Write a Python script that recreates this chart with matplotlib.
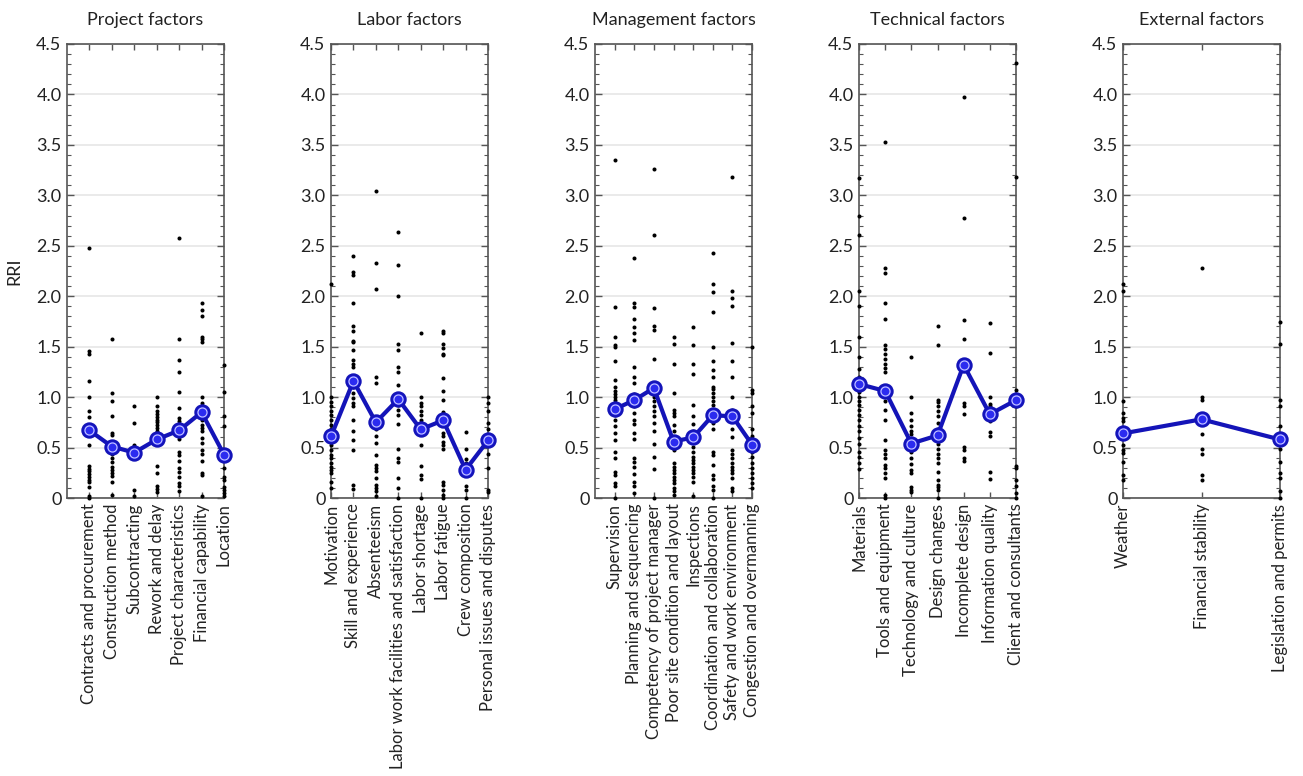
import matplotlib
matplotlib.use("Agg")
import matplotlib.pyplot as plt
from matplotlib.ticker import MultipleLocator, FixedLocator, FuncFormatter

plt.rcParams['font.family'] = ['Lato', 'DejaVu Sans']

# ---------------- data ----------------
titles = ["Project factors", "Labor factors", "Management factors",
          "Technical factors", "External factors"]

project_cats = ["Contracts and procurement", "Construction method", "Subcontracting",
                "Rework and delay", "Project characteristics", "Financial capability", "Location"]
labor_cats = ["Motivation", "Skill and experience", "Absenteeism",
              "Labor work facilities and satisfaction", "Labor shortage", "Labor fatigue",
              "Crew composition", "Personal issues and disputes"]
management_cats = ["Supervision", "Planning and sequencing", "Competency of project manager",
                   "Poor site condition and layout", "Inspections",
                   "Coordination and collaboration", "Safety and work environment",
                   "Congestion and overmanning"]
technical_cats = ["Materials", "Tools and equipment", "Technology and culture",
                  "Design changes", "Incomplete design", "Information quality",
                  "Client and consultants"]
external_cats = ["Weather", "Financial stability", "Legislation and permits"]

project_mean = [0.67, 0.51, 0.45, 0.58, 0.67, 0.85, 0.43]
labor_mean = [0.61, 1.16, 0.75, 0.98, 0.68, 0.77, 0.28, 0.57]
management_mean = [0.88, 0.97, 1.09, 0.56, 0.60, 0.82, 0.81, 0.53]
technical_mean = [1.13, 1.06, 0.54, 0.62, 1.32, 0.83, 0.97]
external_mean = [0.64, 0.78, 0.58]

project_pts = [
    [2.48, 1.46, 1.43, 1.16, 1.0, 0.86, 0.80, 0.53, 0.32, 0.29, 0.27, 0.24, 0.21, 0.18, 0.16, 0.11, 0.02, 0.0],
    [1.58, 1.04, 0.96, 0.81, 0.64, 0.62, 0.44, 0.40, 0.36, 0.31, 0.28, 0.25, 0.22, 0.16, 0.03],
    [0.91, 0.74, 0.53, 0.08, 0.02],
    [1.0, 0.91, 0.86, 0.83, 0.80, 0.77, 0.75, 0.72, 0.69, 0.66, 0.63, 0.32, 0.25, 0.12, 0.09, 0.06],
    [2.58, 1.58, 1.37, 1.25, 1.05, 0.89, 0.79, 0.76, 0.58, 0.46, 0.43, 0.37, 0.30, 0.26, 0.21, 0.15, 0.12, 0.07],
    [1.93, 1.86, 1.80, 1.60, 1.58, 1.55, 1.0, 0.94, 0.81, 0.77, 0.72, 0.69, 0.66, 0.59, 0.55, 0.48, 0.44, 0.37, 0.25, 0.23, 0.02],
    [1.32, 1.05, 0.81, 0.71, 0.38, 0.30, 0.21, 0.18, 0.11, 0.08, 0.05, 0.02],
]
labor_pts = [
    [2.12, 1.0, 0.95, 0.91, 0.86, 0.82, 0.77, 0.72, 0.68, 0.53, 0.48, 0.43, 0.40, 0.35, 0.31, 0.28, 0.25, 0.16, 0.10],
    [2.40, 2.24, 2.21, 1.93, 1.70, 1.66, 1.56, 1.55, 1.47, 1.37, 1.33, 1.30, 1.10, 1.04, 0.99, 0.94, 0.91, 0.77, 0.66, 0.57, 0.48, 0.13, 0.09],
    [3.04, 2.33, 2.07, 1.20, 1.14, 0.68, 0.61, 0.55, 0.43, 0.33, 0.30, 0.27, 0.20, 0.13, 0.10, 0.07, 0.02],
    [2.64, 2.31, 2.0, 1.53, 1.47, 1.30, 1.25, 1.12, 0.92, 0.87, 0.82, 0.73, 0.49, 0.40, 0.36, 0.20, 0.10, 0.0],
    [1.64, 1.0, 0.94, 0.91, 0.86, 0.82, 0.77, 0.73, 0.53, 0.32, 0.23, 0.19, 0.0],
    [1.66, 1.64, 1.53, 1.49, 1.43, 1.42, 1.19, 1.06, 0.97, 0.85, 0.81, 0.64, 0.61, 0.56, 0.53, 0.49, 0.16, 0.13, 0.08, 0.03, 0.0],
    [0.65, 0.49, 0.39, 0.35, 0.12, 0.08, 0.0],
    [1.0, 0.94, 0.86, 0.74, 0.68, 0.44, 0.30, 0.08, 0.06],
]
management_pts = [
    [3.35, 1.89, 1.60, 1.52, 1.50, 1.36, 1.17, 1.10, 1.06, 1.03, 1.0, 0.97, 0.93, 0.82, 0.77, 0.71, 0.64, 0.57, 0.46, 0.40, 0.26, 0.23, 0.15, 0.12, 0.0],
    [2.38, 1.93, 1.89, 1.77, 1.69, 1.64, 1.57, 1.30, 1.20, 1.14, 1.03, 0.91, 0.84, 0.77, 0.73, 0.64, 0.58, 0.40, 0.36, 0.31, 0.24, 0.16, 0.12, 0.05],
    [3.26, 2.61, 1.88, 1.70, 1.67, 1.38, 1.0, 0.96, 0.91, 0.86, 0.81, 0.74, 0.66, 0.54, 0.41, 0.29, 0.0],
    [1.60, 1.53, 1.33, 1.04, 0.87, 0.84, 0.81, 0.72, 0.66, 0.48, 0.35, 0.31, 0.28, 0.25, 0.21, 0.18, 0.15, 0.10, 0.07, 0.03],
    [1.69, 1.52, 1.33, 1.23, 0.92, 0.81, 0.73, 0.66, 0.51, 0.46, 0.41, 0.38, 0.35, 0.31, 0.28, 0.25, 0.21, 0.16, 0.02],
    [2.43, 2.12, 2.04, 1.84, 1.50, 1.36, 1.27, 1.20, 1.10, 1.08, 1.04, 1.0, 0.96, 0.92, 0.87, 0.74, 0.68, 0.46, 0.43, 0.33, 0.23, 0.19, 0.12, 0.08, 0.0],
    [3.18, 2.05, 1.98, 1.90, 1.54, 1.36, 1.20, 1.0, 0.87, 0.68, 0.60, 0.48, 0.44, 0.40, 0.35, 0.31, 0.28, 0.25, 0.20, 0.10, 0.07],
    [1.50, 1.07, 1.04, 0.91, 0.84, 0.68, 0.61, 0.46, 0.41, 0.35, 0.30, 0.25, 0.20, 0.15, 0.10],
]
technical_pts = [
    [3.17, 2.80, 2.61, 2.05, 1.90, 1.60, 1.40, 1.28, 1.20, 1.05, 1.0, 0.96, 0.92, 0.87, 0.82, 0.77, 0.71, 0.66, 0.59, 0.54, 0.46, 0.41, 0.35, 0.29],
    [3.53, 2.28, 2.23, 1.93, 1.77, 1.52, 1.48, 1.43, 1.38, 1.33, 1.29, 1.25, 0.96, 0.87, 0.77, 0.57, 0.48, 0.44, 0.40, 0.33, 0.30, 0.25, 0.20, 0.03, 0.0],
    [1.40, 1.0, 0.84, 0.77, 0.71, 0.66, 0.63, 0.46, 0.40, 0.34, 0.28, 0.25, 0.11, 0.08, 0.06],
    [1.70, 1.52, 0.97, 0.95, 0.91, 0.86, 0.81, 0.74, 0.68, 0.54, 0.49, 0.44, 0.40, 0.35, 0.26, 0.18, 0.13, 0.11, 0.08, 0.0],
    [3.97, 2.78, 1.76, 1.58, 0.94, 0.91, 0.83, 0.51, 0.48, 0.40, 0.37],
    [1.73, 1.44, 1.0, 0.93, 0.91, 0.76, 0.65, 0.61, 0.26, 0.19],
    [4.31, 3.18, 1.07, 0.91, 0.32, 0.30, 0.18, 0.12, 0.05, 0.0],
]
external_pts = [
    [2.12, 2.05, 0.96, 0.84, 0.79, 0.76, 0.69, 0.59, 0.53, 0.48, 0.45, 0.36, 0.23, 0.18],
    [2.28, 1.0, 0.97, 0.63, 0.49, 0.44, 0.23, 0.18],
    [1.74, 1.53, 0.97, 0.91, 0.71, 0.49, 0.36, 0.25, 0.20, 0.07, 0.0],
]

groups = [
    (project_cats, project_mean, project_pts, -1),
    (labor_cats, labor_mean, labor_pts, 0),
    (management_cats, management_mean, management_pts, -1),
    (technical_cats, technical_mean, technical_pts, 0),
    (external_cats, external_mean, external_pts, 0),
]

# ---------------- figure ----------------
W, H = 1303, 776
fig = plt.figure(figsize=(W / 100, H / 100), dpi=100)

ax_left_px = [67, 331, 595, 859, 1123]
ax_w_px = 157
ax_top_px, ax_bot_px = 44, 498

line_col = '#1414b8'
spine_col = '#555555'

for i, (cats, means, pts, xstart) in enumerate(groups):
    ax = fig.add_axes([ax_left_px[i] / W, 1 - ax_bot_px / H,
                       ax_w_px / W, (ax_bot_px - ax_top_px) / H])
    n = len(cats)
    xs = list(range(n))
    for x, vals in zip(xs, pts):
        ax.plot([x] * len(vals), vals, 'o', ms=2.9, color='black', mew=0,
                zorder=3, clip_on=False)
    ax.plot(xs, means, '-', color=line_col, lw=3, zorder=4, clip_on=False)
    ax.plot(xs, means, 'o', ms=10, mfc='#2b2bf0', mec=line_col, mew=1.8,
            zorder=5, clip_on=False)
    ax.plot(xs, means, 'o', ms=6.5, mfc='#2b2bf0', mec='#c8c8ff', mew=0.8,
            zorder=6, clip_on=False)

    ax.set_xlim(xstart, n - 1)
    ax.set_ylim(0, 4.5)
    ax.yaxis.set_major_locator(MultipleLocator(0.5))
    ax.yaxis.set_minor_locator(MultipleLocator(0.1))
    ax.yaxis.set_major_formatter(FuncFormatter(lambda v, p: '0' if abs(v) < 1e-9 else f'{v:.1f}'))
    ax.xaxis.set_major_locator(FixedLocator(xs))
    ax.set_xticklabels(cats, rotation=90, fontsize=12, color='#222222')
    ax.tick_params(axis='x', which='both', direction='in', top=True, bottom=True,
                   length=4, width=1, color=spine_col, pad=4)
    ax.tick_params(axis='y', which='major', direction='in', left=True, right=True,
                   length=5, width=1, color=spine_col, labelsize=13, labelcolor='#222222', pad=4)
    ax.tick_params(axis='y', which='minor', direction='in', left=True, right=True,
                   length=3, width=0.8, color=spine_col)
    ax.grid(axis='y', which='major', color='#e6e6e6', lw=1.2, zorder=0)
    ax.set_axisbelow(True)
    for s in ax.spines.values():
        s.set_color(spine_col)
        s.set_linewidth(1.2)
    ax.set_title(titles[i], fontsize=13, color='#222222', pad=14)
    if i == 0:
        ax.set_ylabel('RRI', fontsize=13, color='#222222', labelpad=10)

fig.savefig('out.png', dpi=100)
